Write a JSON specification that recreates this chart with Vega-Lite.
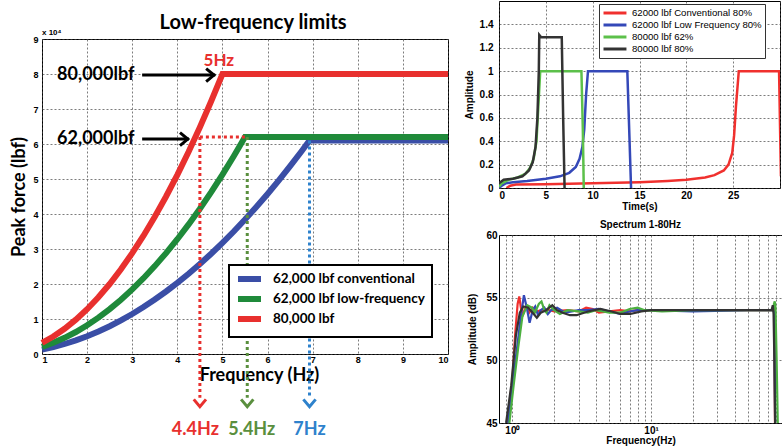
{
  "$schema": "https://vega.github.io/schema/vega-lite/v6.json",
  "background": "white",
  "padding": {"left": 10, "top": 0, "right": 0, "bottom": 0},
  "spacing": 2,
  "resolve": {"scale": {"color": "independent", "x": "independent", "y": "independent", "stroke": "independent", "fill": "independent"}, "legend": {"color": "independent"}},
  "config": {
    "font": "Liberation Sans",
    "view": {"stroke": "black", "strokeWidth": 1},
    "axis": {"grid": true, "gridColor": "#444", "gridOpacity": 0.7, "gridDash": [2, 2], "gridWidth": 1, "domain": false, "ticks": false, "labelOverlap": false, "labelFont": "Liberation Sans", "labelFontWeight": "bold", "labelColor": "black", "titleColor": "black", "titleFont": "Liberation Sans", "titleFontWeight": "bold"},
    "legend": {"title": null}
  },
  "hconcat": [
    {
      "bounds": "flush",
      "spacing": 0,
      "resolve": {"scale": {"color": "independent", "x": "independent", "y": "independent", "stroke": "independent", "fill": "independent"}, "legend": {"color": "independent"}},
      "vconcat": [
        {
          "width": 406,
          "height": 38,
          "view": {"stroke": null},
          "data": {"values": []},
          "mark": {"type": "point", "opacity": 0},
          "encoding": {}
        },
        {
          "width": 406,
          "height": 315,
          "title": {"text": "Low-frequency limits", "font": "Lato", "fontSize": 20, "fontWeight": "bold", "color": "black", "offset": -4, "dx": 8},
          "encoding": {
            "x": {"field": "f", "type": "quantitative", "scale": {"domain": [1, 10], "nice": false},
              "axis": {"values": [1, 2, 3, 4, 5, 6, 7, 8, 9, 10], "format": "d", "labelOverlap": false, "labelFontSize": 9, "labelPadding": 1, "title": "Frequency (Hz)", "titleFont": "Lato", "titleFontSize": 18, "titlePadding": 2, "titleX": 217}},
            "y": {"field": "force", "type": "quantitative", "scale": {"domain": [0, 90000], "nice": false},
              "axis": {"values": [0, 10000, 20000, 30000, 40000, 50000, 60000, 70000, 80000, 90000], "labelExpr": "format(datum.value / 10000, 'd')", "labelOverlap": false, "labelFontSize": 9, "labelPadding": 4, "title": "Peak force (lbf)", "titleFont": "Lato", "titleFontSize": 18, "titlePadding": 4}}
          },
          "layer": [
            {
              "data": {"values": [
                {"series": "62,000 lbf conventional", "f": 1, "force": 1270},
                {"series": "62,000 lbf conventional", "f": 1.25, "force": 1984},
                {"series": "62,000 lbf conventional", "f": 1.5, "force": 2858},
                {"series": "62,000 lbf conventional", "f": 1.75, "force": 3889},
                {"series": "62,000 lbf conventional", "f": 2, "force": 5080},
                {"series": "62,000 lbf conventional", "f": 2.25, "force": 6429},
                {"series": "62,000 lbf conventional", "f": 2.5, "force": 7938},
                {"series": "62,000 lbf conventional", "f": 2.75, "force": 9604},
                {"series": "62,000 lbf conventional", "f": 3, "force": 11430},
                {"series": "62,000 lbf conventional", "f": 3.25, "force": 13414},
                {"series": "62,000 lbf conventional", "f": 3.5, "force": 15558},
                {"series": "62,000 lbf conventional", "f": 3.75, "force": 17859},
                {"series": "62,000 lbf conventional", "f": 4, "force": 20320},
                {"series": "62,000 lbf conventional", "f": 4.25, "force": 22939},
                {"series": "62,000 lbf conventional", "f": 4.5, "force": 25718},
                {"series": "62,000 lbf conventional", "f": 4.75, "force": 28654},
                {"series": "62,000 lbf conventional", "f": 5, "force": 31750},
                {"series": "62,000 lbf conventional", "f": 5.25, "force": 35004},
                {"series": "62,000 lbf conventional", "f": 5.5, "force": 38418},
                {"series": "62,000 lbf conventional", "f": 5.75, "force": 41989},
                {"series": "62,000 lbf conventional", "f": 6, "force": 45720},
                {"series": "62,000 lbf conventional", "f": 6.25, "force": 49609},
                {"series": "62,000 lbf conventional", "f": 6.5, "force": 53658},
                {"series": "62,000 lbf conventional", "f": 6.75, "force": 57864},
                {"series": "62,000 lbf conventional", "f": 6.93, "force": 61000},
                {"series": "62,000 lbf conventional", "f": 10, "force": 61000},
                {"series": "62,000 lbf low-frequency", "f": 1, "force": 2050},
                {"series": "62,000 lbf low-frequency", "f": 1.25, "force": 3203},
                {"series": "62,000 lbf low-frequency", "f": 1.5, "force": 4613},
                {"series": "62,000 lbf low-frequency", "f": 1.75, "force": 6278},
                {"series": "62,000 lbf low-frequency", "f": 2, "force": 8200},
                {"series": "62,000 lbf low-frequency", "f": 2.25, "force": 10378},
                {"series": "62,000 lbf low-frequency", "f": 2.5, "force": 12813},
                {"series": "62,000 lbf low-frequency", "f": 2.75, "force": 15503},
                {"series": "62,000 lbf low-frequency", "f": 3, "force": 18450},
                {"series": "62,000 lbf low-frequency", "f": 3.25, "force": 21653},
                {"series": "62,000 lbf low-frequency", "f": 3.5, "force": 25113},
                {"series": "62,000 lbf low-frequency", "f": 3.75, "force": 28828},
                {"series": "62,000 lbf low-frequency", "f": 4, "force": 32800},
                {"series": "62,000 lbf low-frequency", "f": 4.25, "force": 37028},
                {"series": "62,000 lbf low-frequency", "f": 4.5, "force": 41513},
                {"series": "62,000 lbf low-frequency", "f": 4.75, "force": 46253},
                {"series": "62,000 lbf low-frequency", "f": 5, "force": 51250},
                {"series": "62,000 lbf low-frequency", "f": 5.25, "force": 56503},
                {"series": "62,000 lbf low-frequency", "f": 5.5, "force": 62000},
                {"series": "62,000 lbf low-frequency", "f": 10, "force": 62000},
                {"series": "80,000 lbf", "f": 1, "force": 3200},
                {"series": "80,000 lbf", "f": 1.25, "force": 5000},
                {"series": "80,000 lbf", "f": 1.5, "force": 7200},
                {"series": "80,000 lbf", "f": 1.75, "force": 9800},
                {"series": "80,000 lbf", "f": 2, "force": 12800},
                {"series": "80,000 lbf", "f": 2.25, "force": 16200},
                {"series": "80,000 lbf", "f": 2.5, "force": 20000},
                {"series": "80,000 lbf", "f": 2.75, "force": 24200},
                {"series": "80,000 lbf", "f": 3, "force": 28800},
                {"series": "80,000 lbf", "f": 3.25, "force": 33800},
                {"series": "80,000 lbf", "f": 3.5, "force": 39200},
                {"series": "80,000 lbf", "f": 3.75, "force": 45000},
                {"series": "80,000 lbf", "f": 4, "force": 51200},
                {"series": "80,000 lbf", "f": 4.25, "force": 57800},
                {"series": "80,000 lbf", "f": 4.5, "force": 64800},
                {"series": "80,000 lbf", "f": 4.75, "force": 72200},
                {"series": "80,000 lbf", "f": 5, "force": 80000},
                {"series": "80,000 lbf", "f": 10, "force": 80000}
              ]},
              "mark": {"type": "line", "strokeWidth": 6, "strokeCap": "butt"},
              "encoding": {
                "color": {"field": "series", "type": "nominal", "sort": null,
                  "scale": {"domain": ["62,000 lbf conventional", "62,000 lbf low-frequency", "80,000 lbf"], "range": ["#3a4ea6", "#1f8a3a", "#e8302e"]},
                  "legend": {"orient": "none", "legendX": 187, "legendY": 226, "fillColor": "white", "strokeColor": "black", "padding": 6, "labelFont": "Lato", "labelFontWeight": "bold", "labelFontSize": 13.5, "labelColor": "black", "symbolType": "M -1 0 L 3.6 0", "symbolStrokeWidth": 6, "symbolSize": 100, "rowPadding": -6, "labelOffset": 22,
                    "encode": {"legend": {"update": {"strokeWidth": {"value": 2}}}}}}
              }
            },
            {
              "data": {"values": [{"label": "4.4Hz", "f": 4.5, "force": 62000}, {"label": "5.4Hz", "f": 5.55, "force": 62000}, {"label": "7Hz", "f": 6.93, "force": 61000}]},
              "mark": {"type": "rule", "strokeWidth": 3, "strokeDash": [3, 3]},
              "encoding": {
                "y2": {"datum": -12500},
                "stroke": {"field": "label", "type": "nominal", "scale": {"domain": ["4.4Hz", "5.4Hz", "7Hz"], "range": ["#e8302e", "#5a8f3e", "#2e82cc"]}, "legend": null}
              }
            },
            {
              "data": {"values": [{"f": 4.5, "f2": 5.5, "force": 62000}]},
              "mark": {"type": "rule", "strokeWidth": 3, "strokeDash": [3, 3], "color": "#e8302e"},
              "encoding": {
                "x2": {"field": "f2"}
              }
            },
            {
              "data": {"values": [{"label": "4.4Hz", "f": 4.5, "force": -14200}, {"label": "5.4Hz", "f": 5.55, "force": -14200}, {"label": "7Hz", "f": 6.93, "force": -14200}]},
              "mark": {"type": "point", "shape": "M -1 -0.7 L 0 0.5 L 1 -0.7", "filled": false, "strokeWidth": 3, "size": 150, "opacity": 1},
              "encoding": {
                "stroke": {"field": "label", "type": "nominal", "legend": null}
              }
            },
            {
              "data": {"values": [{"label": "4.4Hz", "f": 4.4, "force": -21700}, {"label": "5.4Hz", "f": 5.65, "force": -21700}, {"label": "7Hz", "f": 6.93, "force": -21700}]},
              "mark": {"type": "text", "font": "Lato", "fontWeight": "bold", "fontSize": 18, "baseline": "middle", "align": "center"},
              "encoding": {
                "text": {"field": "label"},
                "fill": {"field": "label", "type": "nominal", "scale": {"domain": ["4.4Hz", "5.4Hz", "7Hz"], "range": ["#e8302e", "#5a8f3e", "#2e82cc"]}, "legend": null}
              }
            },
            {
              "data": {"values": [{"name": "80,000lbf", "f": 3.22, "fend": 4.84, "force": 79700}, {"name": "62,000lbf", "f": 3.22, "fend": 4.26, "force": 61400}]},
              "mark": {"type": "rule", "strokeWidth": 3, "color": "black"},
              "encoding": {
                "x2": {"field": "fend"}
              }
            },
            {
              "data": {"values": [{"name": "80,000lbf", "f": 4.74, "force": 79700}, {"name": "62,000lbf", "f": 4.16, "force": 61400}]},
              "mark": {"type": "point", "shape": "M -0.7 -1 L 0.5 0 L -0.7 1", "filled": false, "strokeWidth": 3, "size": 170, "color": "black", "opacity": 1}
            },
            {
              "data": {"values": [{"name": "80,000lbf", "f": 3.05, "force": 79700}, {"name": "62,000lbf", "f": 3.05, "force": 61400}]},
              "mark": {"type": "text", "font": "Lato", "fontWeight": "bold", "fontSize": 18, "align": "right", "baseline": "middle", "color": "black"},
              "encoding": {
                "text": {"field": "name"}
              }
            },
            {
              "data": {"values": [{"name": "5Hz", "f": 4.92, "force": 83700}]},
              "mark": {"type": "text", "font": "Lato", "fontWeight": "bold", "fontSize": 17, "align": "center", "baseline": "middle", "color": "#e8302e"},
              "encoding": {
                "text": {"field": "name"}
              }
            },
            {
              "data": {"values": [{"name": "x 10⁴", "f": 1.0, "force": 91600}]},
              "mark": {"type": "text", "font": "Liberation Sans", "fontWeight": "bold", "fontSize": 8, "align": "left", "baseline": "middle", "color": "black"},
              "encoding": {
                "text": {"field": "name"}
              }
            }
          ]
        }
      ]
    },
    {
      "bounds": "flush",
      "spacing": 47,
      "resolve": {"scale": {"color": "independent", "x": "independent", "y": "independent"}, "legend": {"color": "independent"}},
      "vconcat": [
        {
          "width": 281,
          "height": 187,
          "data": {"values": [
            {"run": "62000 lbf Conventional 80%", "t": 0.8, "amp": 0},
            {"run": "62000 lbf Conventional 80%", "t": 1.2, "amp": 0.02},
            {"run": "62000 lbf Conventional 80%", "t": 1.8, "amp": 0.03},
            {"run": "62000 lbf Conventional 80%", "t": 5, "amp": 0.033},
            {"run": "62000 lbf Conventional 80%", "t": 10, "amp": 0.04},
            {"run": "62000 lbf Conventional 80%", "t": 15, "amp": 0.05},
            {"run": "62000 lbf Conventional 80%", "t": 18, "amp": 0.06},
            {"run": "62000 lbf Conventional 80%", "t": 20, "amp": 0.07},
            {"run": "62000 lbf Conventional 80%", "t": 22, "amp": 0.09},
            {"run": "62000 lbf Conventional 80%", "t": 23, "amp": 0.11},
            {"run": "62000 lbf Conventional 80%", "t": 24, "amp": 0.15},
            {"run": "62000 lbf Conventional 80%", "t": 24.5, "amp": 0.2},
            {"run": "62000 lbf Conventional 80%", "t": 24.9, "amp": 0.3},
            {"run": "62000 lbf Conventional 80%", "t": 25.1, "amp": 0.45},
            {"run": "62000 lbf Conventional 80%", "t": 25.3, "amp": 0.7},
            {"run": "62000 lbf Conventional 80%", "t": 25.6, "amp": 1.0},
            {"run": "62000 lbf Conventional 80%", "t": 29.9, "amp": 1.0},
            {"run": "62000 lbf Conventional 80%", "t": 30.1, "amp": 0.1},
            {"run": "62000 lbf Low Frequency 80%", "t": 0, "amp": 0},
            {"run": "62000 lbf Low Frequency 80%", "t": 0.3, "amp": 0.02},
            {"run": "62000 lbf Low Frequency 80%", "t": 0.7, "amp": 0.04},
            {"run": "62000 lbf Low Frequency 80%", "t": 1.5, "amp": 0.05},
            {"run": "62000 lbf Low Frequency 80%", "t": 3, "amp": 0.06},
            {"run": "62000 lbf Low Frequency 80%", "t": 5, "amp": 0.08},
            {"run": "62000 lbf Low Frequency 80%", "t": 6.5, "amp": 0.1},
            {"run": "62000 lbf Low Frequency 80%", "t": 7.5, "amp": 0.13},
            {"run": "62000 lbf Low Frequency 80%", "t": 8.2, "amp": 0.18},
            {"run": "62000 lbf Low Frequency 80%", "t": 8.6, "amp": 0.25},
            {"run": "62000 lbf Low Frequency 80%", "t": 8.9, "amp": 0.35},
            {"run": "62000 lbf Low Frequency 80%", "t": 9.1, "amp": 0.5},
            {"run": "62000 lbf Low Frequency 80%", "t": 9.3, "amp": 0.8},
            {"run": "62000 lbf Low Frequency 80%", "t": 9.5, "amp": 1.0},
            {"run": "62000 lbf Low Frequency 80%", "t": 13.7, "amp": 1.0},
            {"run": "62000 lbf Low Frequency 80%", "t": 13.9, "amp": 0.5},
            {"run": "62000 lbf Low Frequency 80%", "t": 14.1, "amp": 0},
            {"run": "80000 lbf 62%", "t": 0, "amp": 0.01},
            {"run": "80000 lbf 62%", "t": 0.3, "amp": 0.04},
            {"run": "80000 lbf 62%", "t": 1, "amp": 0.07},
            {"run": "80000 lbf 62%", "t": 2, "amp": 0.09},
            {"run": "80000 lbf 62%", "t": 2.8, "amp": 0.12},
            {"run": "80000 lbf 62%", "t": 3.3, "amp": 0.17},
            {"run": "80000 lbf 62%", "t": 3.7, "amp": 0.25},
            {"run": "80000 lbf 62%", "t": 4.0, "amp": 0.4},
            {"run": "80000 lbf 62%", "t": 4.2, "amp": 0.7},
            {"run": "80000 lbf 62%", "t": 4.4, "amp": 1.0},
            {"run": "80000 lbf 62%", "t": 8.8, "amp": 1.0},
            {"run": "80000 lbf 62%", "t": 8.95, "amp": 0.5},
            {"run": "80000 lbf 62%", "t": 9.05, "amp": 0},
            {"run": "80000 lbf 80%", "t": 0, "amp": 0.04},
            {"run": "80000 lbf 80%", "t": 0.5, "amp": 0.07},
            {"run": "80000 lbf 80%", "t": 1.5, "amp": 0.08},
            {"run": "80000 lbf 80%", "t": 2.5, "amp": 0.1},
            {"run": "80000 lbf 80%", "t": 3.2, "amp": 0.15},
            {"run": "80000 lbf 80%", "t": 3.6, "amp": 0.22},
            {"run": "80000 lbf 80%", "t": 3.9, "amp": 0.35},
            {"run": "80000 lbf 80%", "t": 4.1, "amp": 0.6},
            {"run": "80000 lbf 80%", "t": 4.25, "amp": 1.0},
            {"run": "80000 lbf 80%", "t": 4.3, "amp": 1.31},
            {"run": "80000 lbf 80%", "t": 4.5, "amp": 1.29},
            {"run": "80000 lbf 80%", "t": 6.7, "amp": 1.29},
            {"run": "80000 lbf 80%", "t": 6.85, "amp": 0.6},
            {"run": "80000 lbf 80%", "t": 7.0, "amp": 0}
          ]},
          "mark": {"type": "line", "strokeWidth": 2.5, "clip": true},
          "encoding": {
            "x": {"field": "t", "type": "quantitative", "scale": {"domain": [0, 30], "nice": false},
              "axis": {"values": [0, 5, 10, 15, 20, 25, 30], "labelExpr": "datum.value == 30 ? '' : datum.label", "labelOverlap": false, "labelFontSize": 10, "labelPadding": 2, "title": "Time(s)", "titleFontSize": 10, "titlePadding": 1}},
            "y": {"field": "amp", "type": "quantitative", "scale": {"domain": [0, 1.6], "nice": false},
              "axis": {"values": [0, 0.2, 0.4, 0.6, 0.8, 1, 1.2, 1.4], "format": "~g", "labelOverlap": false, "labelFontSize": 10, "labelPadding": 6, "title": "Amplitude", "titleFontSize": 10, "titlePadding": 5}},
            "color": {"field": "run", "type": "nominal", "sort": null,
              "scale": {"domain": ["62000 lbf Conventional 80%", "62000 lbf Low Frequency 80%", "80000 lbf 62%", "80000 lbf 80%"], "range": ["#f0302e", "#3448b8", "#5cc04a", "#333333"]},
              "legend": {"orient": "none", "legendX": 100, "legendY": 3, "fillColor": "white", "strokeColor": "#333", "padding": 3, "labelFont": "Liberation Sans", "labelFontWeight": "normal", "labelFontSize": 9.6, "labelColor": "black", "symbolType": "M -1 0 L 4.1 0", "symbolStrokeWidth": 3, "symbolSize": 81, "rowPadding": -1, "labelOffset": 18}}
          }
        },
        {
          "width": 283,
          "height": 188,
          "title": {"text": "Spectrum 1-80Hz", "fontSize": 10, "fontWeight": "bold", "font": "Liberation Sans", "color": "black", "offset": 0},
          "data": {"values": [
            {"run": "62000 lbf Conventional 80%", "f": 0.92, "db": 45},
            {"run": "62000 lbf Conventional 80%", "f": 1.0, "db": 48.5},
            {"run": "62000 lbf Conventional 80%", "f": 1.045, "db": 52},
            {"run": "62000 lbf Conventional 80%", "f": 1.09, "db": 54.5},
            {"run": "62000 lbf Conventional 80%", "f": 1.12, "db": 55.1},
            {"run": "62000 lbf Conventional 80%", "f": 1.15, "db": 54.2},
            {"run": "62000 lbf Conventional 80%", "f": 1.18, "db": 53.5},
            {"run": "62000 lbf Conventional 80%", "f": 1.22, "db": 54.0},
            {"run": "62000 lbf Conventional 80%", "f": 1.26, "db": 54.3},
            {"run": "62000 lbf Conventional 80%", "f": 1.32, "db": 53.8},
            {"run": "62000 lbf Conventional 80%", "f": 1.4, "db": 54.2},
            {"run": "62000 lbf Conventional 80%", "f": 1.5, "db": 53.9},
            {"run": "62000 lbf Conventional 80%", "f": 1.7, "db": 54.1},
            {"run": "62000 lbf Conventional 80%", "f": 2, "db": 53.9},
            {"run": "62000 lbf Conventional 80%", "f": 2.5, "db": 54.0},
            {"run": "62000 lbf Conventional 80%", "f": 3, "db": 53.9},
            {"run": "62000 lbf Conventional 80%", "f": 3.4, "db": 54.2},
            {"run": "62000 lbf Conventional 80%", "f": 3.8, "db": 54.1},
            {"run": "62000 lbf Conventional 80%", "f": 4.2, "db": 53.8},
            {"run": "62000 lbf Conventional 80%", "f": 5, "db": 53.9},
            {"run": "62000 lbf Conventional 80%", "f": 6, "db": 54.0},
            {"run": "62000 lbf Conventional 80%", "f": 7, "db": 53.9},
            {"run": "62000 lbf Conventional 80%", "f": 8, "db": 54.0},
            {"run": "62000 lbf Conventional 80%", "f": 10, "db": 54.0},
            {"run": "62000 lbf Conventional 80%", "f": 20, "db": 54.0},
            {"run": "62000 lbf Conventional 80%", "f": 40, "db": 54.0},
            {"run": "62000 lbf Conventional 80%", "f": 77, "db": 54.0},
            {"run": "62000 lbf Conventional 80%", "f": 77.5, "db": 53.8},
            {"run": "62000 lbf Conventional 80%", "f": 78.3, "db": 45},
            {"run": "62000 lbf Low Frequency 80%", "f": 0.93, "db": 45},
            {"run": "62000 lbf Low Frequency 80%", "f": 1.0, "db": 48},
            {"run": "62000 lbf Low Frequency 80%", "f": 1.08, "db": 51},
            {"run": "62000 lbf Low Frequency 80%", "f": 1.15, "db": 53.5},
            {"run": "62000 lbf Low Frequency 80%", "f": 1.21, "db": 55.2},
            {"run": "62000 lbf Low Frequency 80%", "f": 1.27, "db": 54.2},
            {"run": "62000 lbf Low Frequency 80%", "f": 1.33, "db": 53.0},
            {"run": "62000 lbf Low Frequency 80%", "f": 1.4, "db": 54.0},
            {"run": "62000 lbf Low Frequency 80%", "f": 1.46, "db": 54.3},
            {"run": "62000 lbf Low Frequency 80%", "f": 1.53, "db": 53.6},
            {"run": "62000 lbf Low Frequency 80%", "f": 1.6, "db": 54.0},
            {"run": "62000 lbf Low Frequency 80%", "f": 1.7, "db": 54.2},
            {"run": "62000 lbf Low Frequency 80%", "f": 1.8, "db": 53.7},
            {"run": "62000 lbf Low Frequency 80%", "f": 1.9, "db": 54.0},
            {"run": "62000 lbf Low Frequency 80%", "f": 2.1, "db": 54.2},
            {"run": "62000 lbf Low Frequency 80%", "f": 2.4, "db": 53.8},
            {"run": "62000 lbf Low Frequency 80%", "f": 3, "db": 54.0},
            {"run": "62000 lbf Low Frequency 80%", "f": 3.5, "db": 54.0},
            {"run": "62000 lbf Low Frequency 80%", "f": 4.2, "db": 54.1},
            {"run": "62000 lbf Low Frequency 80%", "f": 5, "db": 53.9},
            {"run": "62000 lbf Low Frequency 80%", "f": 6, "db": 53.7},
            {"run": "62000 lbf Low Frequency 80%", "f": 7, "db": 53.9},
            {"run": "62000 lbf Low Frequency 80%", "f": 8, "db": 54.0},
            {"run": "62000 lbf Low Frequency 80%", "f": 10, "db": 54.0},
            {"run": "62000 lbf Low Frequency 80%", "f": 20, "db": 53.9},
            {"run": "62000 lbf Low Frequency 80%", "f": 50, "db": 54.0},
            {"run": "62000 lbf Low Frequency 80%", "f": 76, "db": 54.0},
            {"run": "62000 lbf Low Frequency 80%", "f": 77.5, "db": 53.8},
            {"run": "62000 lbf Low Frequency 80%", "f": 78.5, "db": 45},
            {"run": "80000 lbf 62%", "f": 0.95, "db": 45},
            {"run": "80000 lbf 62%", "f": 1.02, "db": 48},
            {"run": "80000 lbf 62%", "f": 1.1, "db": 51},
            {"run": "80000 lbf 62%", "f": 1.18, "db": 53.5},
            {"run": "80000 lbf 62%", "f": 1.28, "db": 54.4},
            {"run": "80000 lbf 62%", "f": 1.38, "db": 54.2},
            {"run": "80000 lbf 62%", "f": 1.45, "db": 53.8},
            {"run": "80000 lbf 62%", "f": 1.55, "db": 54.5},
            {"run": "80000 lbf 62%", "f": 1.62, "db": 54.7},
            {"run": "80000 lbf 62%", "f": 1.7, "db": 54.0},
            {"run": "80000 lbf 62%", "f": 1.76, "db": 53.8},
            {"run": "80000 lbf 62%", "f": 1.85, "db": 54.4},
            {"run": "80000 lbf 62%", "f": 2.0, "db": 54.0},
            {"run": "80000 lbf 62%", "f": 2.2, "db": 53.7},
            {"run": "80000 lbf 62%", "f": 2.5, "db": 54.0},
            {"run": "80000 lbf 62%", "f": 3, "db": 53.9},
            {"run": "80000 lbf 62%", "f": 3.5, "db": 53.8},
            {"run": "80000 lbf 62%", "f": 4, "db": 54.0},
            {"run": "80000 lbf 62%", "f": 5, "db": 53.8},
            {"run": "80000 lbf 62%", "f": 6, "db": 53.8},
            {"run": "80000 lbf 62%", "f": 7, "db": 54.1},
            {"run": "80000 lbf 62%", "f": 8, "db": 54.2},
            {"run": "80000 lbf 62%", "f": 9, "db": 54.0},
            {"run": "80000 lbf 62%", "f": 12, "db": 53.9},
            {"run": "80000 lbf 62%", "f": 20, "db": 54.0},
            {"run": "80000 lbf 62%", "f": 50, "db": 54.0},
            {"run": "80000 lbf 62%", "f": 76, "db": 54.0},
            {"run": "80000 lbf 62%", "f": 77, "db": 54.5},
            {"run": "80000 lbf 62%", "f": 78, "db": 54.7},
            {"run": "80000 lbf 62%", "f": 79, "db": 54.2},
            {"run": "80000 lbf 62%", "f": 80.5, "db": 50},
            {"run": "80000 lbf 62%", "f": 82, "db": 45},
            {"run": "80000 lbf 80%", "f": 0.9, "db": 45},
            {"run": "80000 lbf 80%", "f": 0.98, "db": 48},
            {"run": "80000 lbf 80%", "f": 1.06, "db": 52},
            {"run": "80000 lbf 80%", "f": 1.13, "db": 53.8},
            {"run": "80000 lbf 80%", "f": 1.2, "db": 54.3},
            {"run": "80000 lbf 80%", "f": 1.3, "db": 54.2},
            {"run": "80000 lbf 80%", "f": 1.4, "db": 53.8},
            {"run": "80000 lbf 80%", "f": 1.5, "db": 53.4},
            {"run": "80000 lbf 80%", "f": 1.6, "db": 53.8},
            {"run": "80000 lbf 80%", "f": 1.75, "db": 54.0},
            {"run": "80000 lbf 80%", "f": 1.94, "db": 54.4},
            {"run": "80000 lbf 80%", "f": 2.1, "db": 54.0},
            {"run": "80000 lbf 80%", "f": 2.3, "db": 53.8},
            {"run": "80000 lbf 80%", "f": 2.6, "db": 53.6},
            {"run": "80000 lbf 80%", "f": 2.9, "db": 53.6},
            {"run": "80000 lbf 80%", "f": 3.5, "db": 53.9},
            {"run": "80000 lbf 80%", "f": 4.3, "db": 54.1},
            {"run": "80000 lbf 80%", "f": 5.2, "db": 53.9},
            {"run": "80000 lbf 80%", "f": 6, "db": 53.7},
            {"run": "80000 lbf 80%", "f": 7.1, "db": 53.7},
            {"run": "80000 lbf 80%", "f": 8.5, "db": 53.9},
            {"run": "80000 lbf 80%", "f": 10, "db": 54.0},
            {"run": "80000 lbf 80%", "f": 20, "db": 54.0},
            {"run": "80000 lbf 80%", "f": 50, "db": 54.0},
            {"run": "80000 lbf 80%", "f": 74, "db": 54.0},
            {"run": "80000 lbf 80%", "f": 75.5, "db": 54.4},
            {"run": "80000 lbf 80%", "f": 76.5, "db": 53.7},
            {"run": "80000 lbf 80%", "f": 77.5, "db": 50},
            {"run": "80000 lbf 80%", "f": 78.5, "db": 45}
          ]},
          "mark": {"type": "line", "strokeWidth": 2.2, "clip": true},
          "encoding": {
            "x": {"field": "f", "type": "quantitative", "scale": {"type": "log", "domain": [0.8, 88], "nice": false},
              "axis": {"values": [0.9, 1, 2, 3, 4, 5, 6, 7, 8, 9, 10, 20, 30, 40, 50, 60, 70, 80], "labelExpr": "datum.value == 1 ? '10⁰' : (datum.value == 10 ? '10¹' : '')", "labelOverlap": false, "labelFontSize": 10, "labelPadding": 2, "title": "Frequency(Hz)", "titleFontSize": 10, "titlePadding": 0}},
            "y": {"field": "db", "type": "quantitative", "scale": {"domain": [45, 60], "nice": false},
              "axis": {"values": [45, 50, 55, 60], "labelOverlap": false, "labelFontSize": 10, "labelPadding": 2, "title": "Amplitude (dB)", "titleFontSize": 10, "titlePadding": 8}},
            "color": {"field": "run", "type": "nominal", "sort": null,
              "scale": {"domain": ["62000 lbf Conventional 80%", "62000 lbf Low Frequency 80%", "80000 lbf 62%", "80000 lbf 80%"], "range": ["#f0302e", "#3448b8", "#4cb040", "#333333"]},
              "legend": null}
          }
        }
      ]
    }
  ]
}
